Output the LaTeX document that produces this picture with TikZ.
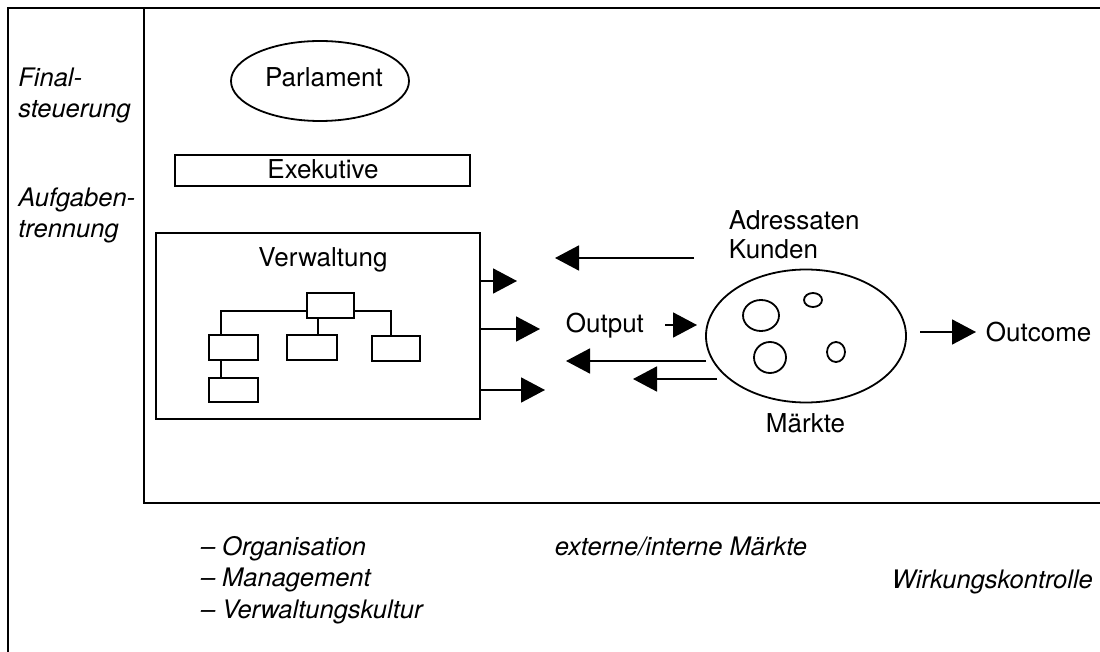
\documentclass[tikz,border=0pt]{standalone}
\usepackage{fontspec}
\setmainfont{TeX Gyre Heros}
\usetikzlibrary{arrows.meta,shapes.geometric}
\begin{document}
\begin{tikzpicture}[x=1pt,y=-1pt,line width=1.8pt,
  lbl/.style={font=\fontsize{25.5}{31}\selectfont\itshape,inner sep=0pt,anchor=base west},
  txt/.style={font=\fontsize{26}{31}\selectfont,inner sep=0pt},
  box/.style={draw,rectangle,inner sep=0pt,anchor=north west},
  orgbox/.style={box,minimum height=25pt},
  arr/.style={-{Triangle[length=24pt,width=25pt]}},
]
\useasboundingbox (0,0) rectangle (1100,652);
\clip (0,0) rectangle (1100,652);
% frames
\draw (8,8) rectangle (1120,670);
\draw (144,8) rectangle (1120,503);
% left labels
\node[lbl] (fin) at (17.5,87) {Final-};
\node[lbl] (steu) at (17.5,118) {steuerung};
\node[lbl] (aufg) at (17.5,207) {Aufgaben-};
\node[lbl] (trenn) at (17.5,238) {trennung};
% Parlament
\node[draw,ellipse,inner sep=0pt,minimum width=178pt,minimum height=80pt] (parl) at (320,81) {};
\node[txt,anchor=base] (parlt) at (324,87) {Parlament};
% Exekutive
\node[box,minimum width=295pt,minimum height=31pt] (exe) at (174,154) {};
\node[txt,anchor=base] (exet) at (323,179) {Exekutive};
% Verwaltung
\node[box,minimum width=324pt,minimum height=186pt] (verw) at (155,232) {};
\node[txt,anchor=base] (verwt) at (323,267) {Verwaltung};
% org chart
\node[orgbox,minimum width=47pt] (top) at (306,292) {};
\node[orgbox,minimum width=49pt] (b1) at (208,334) {};
\node[orgbox,minimum width=50pt] (b2) at (286,334) {};
\node[orgbox,minimum width=48pt] (b3) at (371,335) {};
\node[orgbox,minimum width=49pt,minimum height=24pt] (b4) at (208,377) {};
\draw ([yshift=-5.5pt]top.west) -| ([xshift=-12.5pt]b1.north);
\draw ([yshift=-5.5pt]top.east) -| ([xshift=-5pt]b3.north);
\draw ([xshift=-12.5pt]top.south) -- ([xshift=-12.5pt]top.south |- b2.north);
\draw ([xshift=-12.5pt]b1.south) -- ([xshift=-12.5pt]b1.south |- b4.north);
% arrows out of Verwaltung
\coordinate (v1) at (517,281);
\coordinate (v2) at (540,329);
\coordinate (v3) at (545,390);
\draw[arr] (verw.east |- v1) -- (v1);
\draw[arr] (verw.east |- v2) -- (v2);
\draw[arr] (verw.east |- v3) -- (v3);
% Maerkte ellipse
\node[draw,ellipse,inner sep=0pt,minimum width=200pt,minimum height=133pt] (mk) at (806,336) {};
\draw (761,315.5) ellipse (18 and 15.5);
\draw (813,300) ellipse (9 and 7);
\draw (770,357.5) ellipse (16 and 15.5);
\draw (836,352) ellipse (9 and 10);
% Adressaten / Kunden
\node[txt,anchor=base west] (adr) at (728,230) {Adressaten};
\node[txt,anchor=base west] (kun) at (728,259) {Kunden};
\coordinate (k1s) at (694,258);
\coordinate (k1e) at (555,258);
\draw[arr] (k1s) -- (k1e);
% Output
\node[txt,anchor=base west] (out) at (565,332) {Output};
\coordinate (o1s) at (665,325);
\coordinate (o1e) at (697,325);
\draw[arr] (o1s) -- (o1e);
% return arrows
\coordinate (r1s) at (706,361);
\coordinate (r1e) at (566,361);
\coordinate (r2s) at (717,379);
\coordinate (r2e) at (633,379);
\draw[arr] (r1s) -- (r1e);
\draw[arr] (r2s) -- (r2e);
% Maerkte label
\node[txt,anchor=base west] (mkt) at (765,432) {Märkte};
% Outcome
\coordinate (oc1) at (920,332);
\coordinate (oc2) at (976,332);
\draw[arr] (oc1) -- (oc2);
\node[txt,anchor=base west] (outc) at (985,341) {Outcome};
% bottom labels
\node[lbl] (org) at (200,555) {– Organisation};
\node[lbl] (man) at (200,586) {– Management};
\node[lbl] (vk) at (200,618) {– Verwaltungskultur};
\node[lbl] (ext) at (554,555) {externe/interne Märkte};
\node[lbl] (wirk) at (891,588) {Wirkungskontrolle};
\end{tikzpicture}
\end{document}
